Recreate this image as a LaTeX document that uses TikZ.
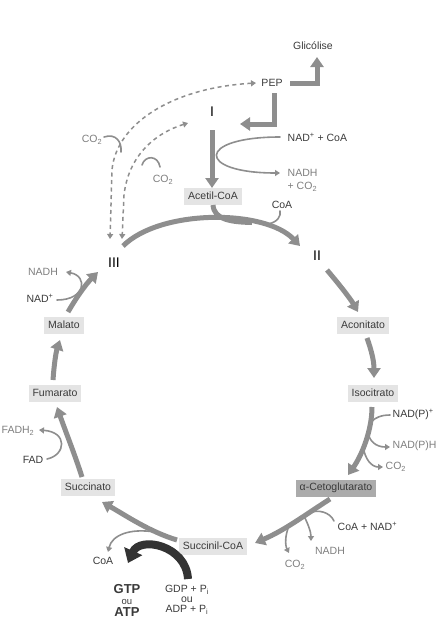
\documentclass[tikz,border=0pt]{standalone}
\usepackage{fontspec}
\setmainfont{Liberation Sans}
\usetikzlibrary{arrows.meta}
\definecolor{maingray}{HTML}{8E8E8E}
\definecolor{boxgray}{HTML}{E4E4E4}
\definecolor{boxdark}{HTML}{ABABAB}
\definecolor{darktext}{HTML}{3A3A3A}
\definecolor{lighttext}{HTML}{7E7E7E}
\definecolor{darkarrow}{HTML}{333333}
\newcommand\lfs{\fontsize{10.5}{12}\selectfont}
\begin{document}
\begin{tikzpicture}[x=1pt,y=-1pt,
  box/.style={fill=boxgray, text=darktext, inner xsep=4pt, inner ysep=2pt, minimum height=17pt, font=\lfs},
  lab/.style={text=darktext, inner sep=0.5pt, font=\lfs},
  glab/.style={lab, text=lighttext},
  roman/.style={inner sep=0pt, font=\fontsize{14}{16}\selectfont},
  big/.style={draw=maingray, line width=5pt, -{Triangle[width=13pt,length=10pt]}},
  bigline/.style={draw=maingray, line width=5pt},
  thin/.style={draw=maingray, line width=1.6pt, line cap=round},
  thinarr/.style={thin, -{Triangle[width=6pt,length=5pt]}},
  dashline/.style={draw=maingray, line width=1.5pt, dash pattern=on 4pt off 3.5pt, {Triangle[width=6pt,length=5pt]}-{Triangle[width=6pt,length=5pt]}}
]
\useasboundingbox (0,0) rectangle (442,627);

% boxes
\node[box] (acetil) at (213,196) {Acetil-CoA};
\node[box] (aco) at (363,325) {Aconitato};
\node[box] (iso) at (373,393) {Isocitrato};
\node[box, fill=boxdark] (akg) at (336,488) {α-Cetoglutarato};
\node[box] (succoa) at (213,546) {Succinil-CoA};
\node[box] (succ) at (88,487) {Succinato};
\node[box] (fum) at (55,393) {Fumarato};
\node[box] (mal) at (64,325) {Malato};

% labels
\node[lab] (glic) at (313,46) {Glicólise};
\node[lab] (pep) at (272,83) {PEP};
\node[roman] (rI) at (212,112) {I};
\node[roman] (rII) at (317,256) {II};
\node[roman] (rIII) at (114,263) {III};
\node[lab, anchor=west] (nadcoa) at (287,137) {NAD\textsuperscript{+} + CoA};
\node[glab, anchor=west] (nadh1) at (287,173) {NADH};
\node[glab, anchor=west] (co2a) at (287,187) {+ CO\textsubscript{2}};
\node[lab] (coa1) at (282,205) {CoA};
\node[glab] (co2o) at (92,140) {CO\textsubscript{2}};
\node[glab] (co2i) at (163,180) {CO\textsubscript{2}};
\node[glab] (nadh2) at (43,272) {NADH};
\node[lab] (nad2) at (40,298) {NAD\textsuperscript{+}};
\node[glab] (fadh) at (18,431) {FADH\textsubscript{2}};
\node[lab] (fad) at (33,460) {FAD};
\node[lab, anchor=west] (nadp) at (392,414) {NAD(P)\textsuperscript{+}};
\node[glab, anchor=west] (nadph) at (392,446) {NAD(P)H};
\node[glab, anchor=west] (co2b) at (385,467) {CO\textsubscript{2}};
\node[lab, anchor=west] (coanad) at (337,526) {CoA + NAD\textsuperscript{+}};
\node[glab] (nadh3) at (330,551) {NADH};
\node[glab] (co2c) at (295,565) {CO\textsubscript{2}};
\node[lab] (coa2) at (103,561) {CoA};
\node[text=darktext, inner sep=0pt, align=center, font=\fontsize{10.5}{12.5}\selectfont] (gtp) at (127,600)
  {{\fontsize{13}{13}\selectfont\bfseries GTP}\\[-1pt] {\fontsize{9.5}{10}\selectfont ou}\\[-1pt] {\fontsize{13}{13}\selectfont\bfseries ATP}};
\node[text=darktext, inner sep=0pt, align=center, font=\lfs] (gdp) at (187,600)
  {GDP + P\textsubscript{i}\\[-2pt] ou\\[-2pt] ADP + P\textsubscript{i}};

% coordinates
\coordinate (pepE) at (290,83);
\coordinate (pepC) at (317,83);
\coordinate (glicS) at (317,57);
\coordinate (pepS) at (274,93);
\coordinate (pepC2) at (274,124);
\coordinate (toI) at (240,124);
\coordinate (iS) at (212,130);
\coordinate (acN) at (212,188);
\coordinate (acS) at (213,205);
\coordinate (merge) at (252,222.5);
\coordinate (arcS) at (123,246);
\coordinate (arcE) at (300,246);

% elbow arrows near PEP
\draw[big, line join=miter] (pepE) -- (pepC) -- (glicS);
\draw[big, line join=miter] (pepS) -- (pepC2) -- (toI);
\draw[big] (iS) -- (acN);

% main cycle
\draw[bigline] (acS) .. controls (214,220) and (232,222) .. (merge);
\draw[big] (arcS) .. controls (160,209) and (265,209) .. (arcE);
\draw[big] (327,270) .. controls (338,283) and (350,298) .. (358,312);
\draw[big] (367,338) .. controls (372,352) and (374,362) .. (374,378);
\draw[big] (372,407) .. controls (372,430) and (362,455) .. (348,475);
\draw[big] (330,499) .. controls (305,515) and (285,530) .. (255,543);
\draw[big] (177,540) .. controls (150,532) and (125,515) .. (102,502);
\draw[big] (82,477) .. controls (75,455) and (65,430) .. (57,407);
\draw[big] (53,380) .. controls (54,365) and (56,352) .. (60,340);
\draw[big] (68,312) .. controls (76,298) and (86,284) .. (98,272);

% side curves
\draw[thinarr] (280,137) .. controls (196,137) and (196,173) .. (280,173);
\draw[thin] (268,224) .. controls (278,222) and (281,216) .. (280,211);
\draw[thin] (104,137) .. controls (116,133) and (122,142) .. (121,152);
\draw[thin] (142,165) .. controls (145,155) and (158,155) .. (160,167);
\draw[thinarr] (57,300) .. controls (86,300) and (88,276) .. (66,272);
\draw[thinarr] (47,459) .. controls (66,455) and (68,432) .. (39,430);
\draw[thinarr] (390,415) .. controls (372,415) and (367,426) .. (368,432) .. controls (369,441) and (376,447) .. (390,447);
\draw[thinarr] (363,446) .. controls (365,460) and (372,467) .. (383,467);
\draw[thin] (334,521) .. controls (330,512) and (318,509) .. (309,513);
\draw[thinarr] (304,516) .. controls (308,524) and (311,532) .. (311,541);
\draw[thinarr] (289,526) .. controls (285,535) and (285,545) .. (289,553);
\draw[thinarr] (155,532) .. controls (130,528) and (112,535) .. (108,552);

% dark arrow
\draw[draw=darkarrow, line width=8pt, -{Triangle[width=19pt,length=13pt]}] (188,579) .. controls (186,545) and (140,536) .. (128,563);

% dashed pathways
\draw[dashline] (256,83) .. controls (170,88) and (116,125) .. (112,170) -- (110,239);
\draw[dashline] (188,123) .. controls (150,135) and (128,160) .. (124,195) -- (122,239);
\end{tikzpicture}
\end{document}
